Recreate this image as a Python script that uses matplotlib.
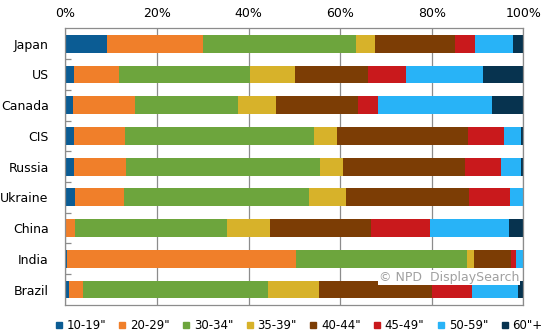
import numpy as np
import matplotlib
matplotlib.use("Agg")
import matplotlib.pyplot as plt
from matplotlib.lines import Line2D

# share of shipments by screen size, % per country
pays = ["Japan", "US", "Canada", "CIS", "Russia", "Ukraine", "China", "India", "Brazil"]
tailles = ['10-19"', '20-29"', '30-34"', '35-39"', '40-44"', '45-49"', '50-59"', '60"+']

p10_19 = [9.0, 1.8, 1.6, 1.8, 1.8, 2.0, 0.0, 0.3, 0.8]
p20_29 = [21.0, 10.0, 13.7, 11.2, 11.5, 10.9, 2.1, 50.0, 3.0]
p30_34 = [33.4, 28.5, 22.5, 41.4, 42.4, 40.4, 33.3, 37.5, 40.5]
p35_39 = [4.2, 9.9, 8.3, 4.9, 5.0, 8.0, 9.4, 1.4, 11.2]
p40_44 = [17.6, 16.0, 17.8, 28.6, 26.6, 26.9, 21.9, 8.2, 24.5]
p45_49 = [4.2, 8.2, 4.4, 7.8, 7.8, 8.9, 13.0, 1.1, 8.8]
p50_59 = [8.3, 16.8, 24.8, 3.9, 4.4, 2.8, 17.2, 1.5, 10.1]
p60 = [2.3, 8.7, 6.9, 0.4, 0.4, 0.0, 3.0, 0.0, 1.1]

series = [p10_19, p20_29, p30_34, p35_39, p40_44, p45_49, p50_59, p60]
couleurs = ["#0b5c94", "#f07f2a", "#6da53d", "#d7b22a", "#7c3d05",
            "#c9191c", "#28b3f7", "#07334f"]

police = 9
gris = "#8c8c8c"

fig = plt.figure(figsize=(5.45, 3.34), dpi=100)
ax = fig.add_axes([0.120, 0.087, 0.840, 0.828])

y = np.arange(len(pays))
gauche = np.zeros(len(pays))
for vals, c in zip(series, couleurs):
    vals = np.array(vals)
    ax.barh(y, vals, left=gauche, height=0.58, color=c, edgecolor="none", zorder=2)
    gauche += vals

ax.set_xlim(0, 100)
ax.set_ylim(len(pays) - 0.5, -0.5)
ax.xaxis.tick_top()
ax.set_xticks(np.arange(0, 101, 20))
ax.set_xticklabels([f"{v}%" for v in range(0, 101, 20)], fontsize=police)
ax.tick_params(axis="x", length=0, pad=6)
ax.grid(axis="x", color=gris, linewidth=0.9, zorder=0)

ax.set_yticks(y)
ax.set_yticklabels(pays, fontsize=police)
ax.set_yticks(np.arange(0.5, len(pays) - 1, 1), minor=True)
ax.tick_params(axis="y", which="major", length=0, pad=12)
ax.tick_params(axis="y", which="minor", direction="in", length=4, color=gris, width=0.9)

for s in ax.spines.values():
    s.set_color(gris)
    s.set_linewidth(0.9)

ax.text(99.2, 7.6, "\u00a9 NPD  DisplaySearch", ha="right", va="center", fontsize=police,
        color="#a0a0a0", zorder=3,
        bbox=dict(facecolor="white", edgecolor="none", pad=0.5))

poignees = [Line2D([], [], marker="s", linestyle="none", markersize=5,
                   markerfacecolor=c, markeredgecolor=c) for c in couleurs]
fig.legend(poignees, tailles, loc="lower center", bbox_to_anchor=(0.548, -0.025),
           ncol=8, frameon=False, fontsize=8.5, handlelength=0.6,
           handletextpad=0.35, columnspacing=1.1)

fig.savefig("out.png", dpi=100)
